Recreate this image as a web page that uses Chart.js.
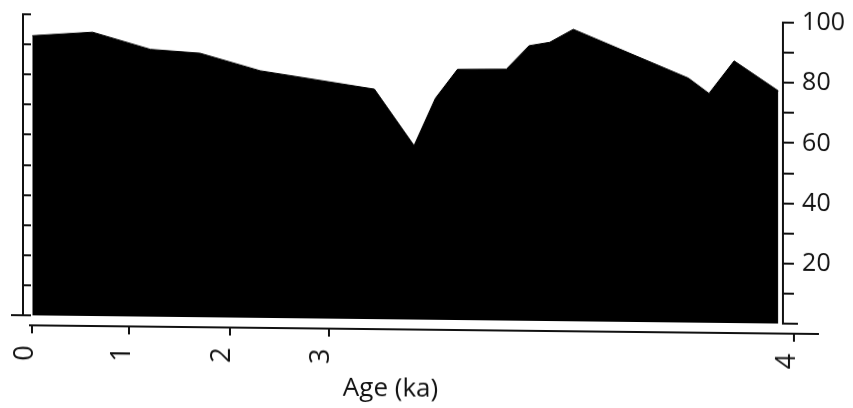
<!DOCTYPE html>
<html>
<head>
<meta charset="utf-8">
<script src="https://cdn.jsdelivr.net/npm/chart.js@4/dist/chart.umd.min.js"></script>
<style>
  html, body { margin: 0; padding: 0; background: #fff; }
  #wrap { width: 853px; height: 408px; overflow: hidden; }
  /* the scanned figure is slightly sheared */
  canvas { display: block; transform: skewY(0.63deg); transform-origin: 0 0; }
</style>
</head>
<body>
<div id="wrap"><canvas id="c" width="853" height="408"></canvas></div>
<script>
// ---- data (x = core position in age-depth units, y = record value 0-100) ----
const depthPos     = [0, 7.9, 15.5, 22.0, 29.9, 44.9, 50.1, 52.9, 55.8, 62.2, 65.2, 67.9, 71.0, 86.1, 88.8, 92.1, 97.9];
const recordValues = [92.9, 94.3, 88.8, 87.7, 82.1, 76.4, 57.8, 73.6, 83.3, 83.5, 91.4, 92.6, 97.0, 81.2, 76.2, 87.1, 77.3];

// age axis: tick positions on the same scale and their labels (ka)
const ageTickPos    = [0, 12.7, 25.9, 38.9, 100];
const ageTickLabels = ['0', '1', '2', '3', '4'];

// right-hand value axis labels
const valueTickLabels = [20, 40, 60, 80, 100];

// ---- styling / layout ----
const INK = '#111';
const FONT = 'Open Sans';
Chart.defaults.font.family = FONT;
Chart.defaults.color = INK;

const X_MIN = -0.3, X_MAX = 103.1;
const LEFT_AXIS_AT = -1.18, RIGHT_AXIS_AT = 98.56, AGE_AXIS_AT = -3.32;

const points = depthPos.map((d, i) => ({ x: d, y: recordValues[i] }));

const yBase = { type: 'linear', axis: 'y', min: 0, max: 100 };
const zeroOnly = s => { s.ticks = [{ value: 0 }]; };

// centre the axis title under the record (layout only)
const titleBoxPlugin = {
  id: 'titleBox',
  afterLayout(chart) {
    const s = chart.scales.ageTitle;
    s.left = 30; s.right = 751;
  }
};

new Chart(document.getElementById('c'), {
  type: 'line',
  data: {
    datasets: [{
      data: points,
      xAxisID: 'x',
      yAxisID: 'y',
      fill: 'origin',
      backgroundColor: '#000',
      borderColor: '#000',
      borderWidth: 1,
      pointRadius: 0,
      tension: 0
    }]
  },
  plugins: [titleBoxPlugin],
  options: {
    responsive: false,
    animation: false,
    devicePixelRatio: 1,
    layout: { padding: { left: 30, top: 14, right: 0, bottom: 93 } },
    plugins: { legend: { display: false }, tooltip: { enabled: false } },
    scales: {
      x: { type: 'linear', axis: 'x', min: X_MIN, max: X_MAX, display: false },
      y: {
        ...yBase, position: { x: LEFT_AXIS_AT },
        ticks: { display: false, stepSize: 10 },
        grid: { drawOnChartArea: false, tickLength: -9, lineWidth: 2, color: INK },
        border: { display: true, width: 2, color: INK }
      },
      yLeftBase: {
        ...yBase, position: { x: LEFT_AXIS_AT }, afterBuildTicks: zeroOnly,
        ticks: { display: false },
        grid: { drawOnChartArea: false, tickLength: 12, lineWidth: 2, color: INK },
        border: { display: false }
      },
      yRight: {
        ...yBase, position: { x: RIGHT_AXIS_AT },
        ticks: { display: false, stepSize: 10 },
        grid: { drawOnChartArea: false, tickLength: -12, lineWidth: 2, color: INK },
        border: { display: true, width: 2, color: INK }
      },
      yRightBase: {
        ...yBase, position: { x: RIGHT_AXIS_AT }, afterBuildTicks: zeroOnly,
        ticks: { display: false },
        grid: { drawOnChartArea: false, tickLength: -15, lineWidth: 2, color: INK },
        border: { display: false }
      },
      yLabels: {
        ...yBase, position: 'right',
        afterBuildTicks: s => { s.ticks = valueTickLabels.map(v => ({ value: v })); },
        ticks: { mirror: true, crossAlign: 'far', padding: 27, font: { size: 25 }, color: INK, callback: v => String(v) },
        grid: { display: false, drawTicks: false },
        border: { display: false },
        afterFit: s => { s.width = 35; s.paddingTop = 0; s.paddingBottom = 0; }
      },
      age: {
        type: 'linear', axis: 'x', min: X_MIN, max: X_MAX, position: { y: AGE_AXIS_AT },
        afterBuildTicks: s => { s.ticks = ageTickPos.map(v => ({ value: v })); },
        ticks: {
          autoSkip: false, minRotation: 90, maxRotation: 90, labelOffset: -7, padding: 13,
          font: { size: 27 }, color: INK,
          callback: (v, i) => ageTickLabels[i]
        },
        grid: { drawOnChartArea: false, tickLength: 7, lineWidth: 2, color: INK },
        border: { display: true, width: 2, color: INK }
      },
      ageTitle: {
        type: 'linear', axis: 'x', min: X_MIN, max: X_MAX, position: { y: AGE_AXIS_AT },
        ticks: { display: false },
        grid: { display: false, drawTicks: false },
        border: { display: false },
        title: { display: true, text: 'Age (ka)', font: { size: 26 }, color: INK, padding: { top: 44, bottom: 0 } }
      }
    }
  }
});
</script>
</body>
</html>
